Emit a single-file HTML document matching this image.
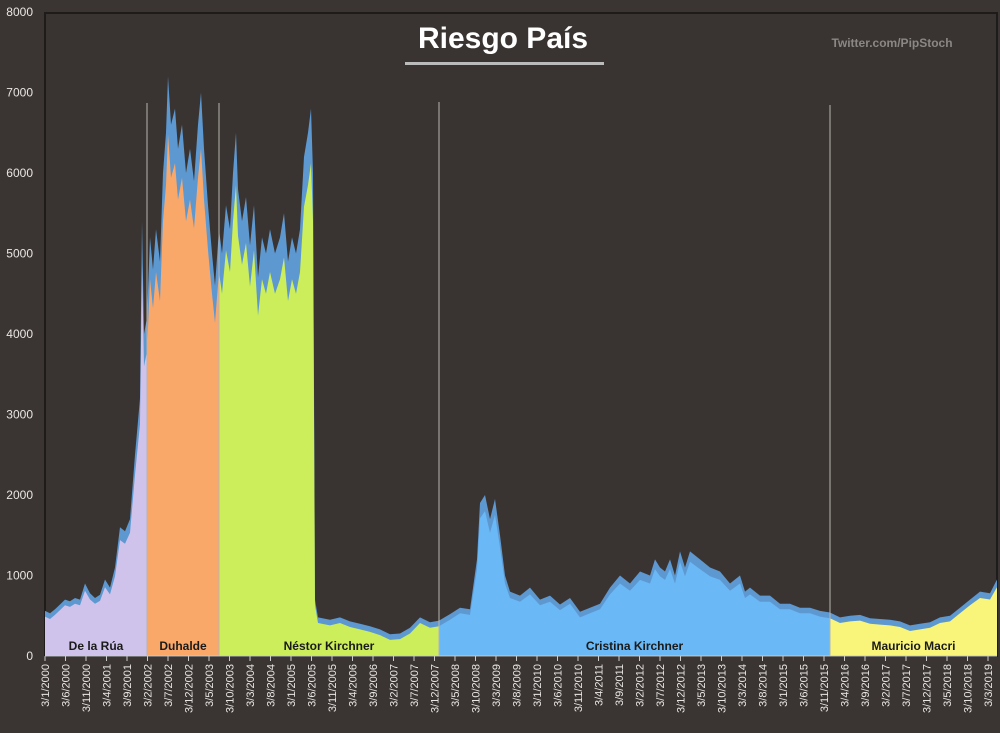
<!DOCTYPE html>
<html><head><meta charset="utf-8"><style>
body{margin:0;background:#3a3532;}
svg{display:block;font-family:"Liberation Sans",sans-serif;}
</style></head><body>
<svg id="s" width="1000" height="733" viewBox="0 0 1000 733" xmlns="http://www.w3.org/2000/svg">
<rect width="1000" height="733" fill="#3a3532"/>
<rect x="45" y="13" width="952" height="643" fill="#393431" stroke="#1e1c1b" stroke-width="2"/>
<g id="g"></g>
<text x="503" y="48" fill="#fff" font-size="30" font-weight="bold" text-anchor="middle">Riesgo País</text>
<rect x="405" y="62" width="199" height="3" fill="#bbb"/>
<text x="892" y="47" fill="#8a8784" font-size="12" font-weight="bold" text-anchor="middle">Twitter.com/PipStoch</text>
</svg>
<script>
const pts=[[45,560],[50,530],[55,580],[60,640],[65,700],[70,680],[75,720],[80,700],[85,900],[90,780],[95,720],[100,760],[105,950],[110,850],[115,1100],[120,1600],[125,1550],[130,1700],[135,2500],[140,3200],[142,5400],[144,4000],[147,4200],[150,5200],[153,4800],[156,5300],[160,4900],[163,6000],[166,6500],[168,7200],[171,6600],[175,6800],[178,6300],[182,6600],[186,6000],[190,6300],[194,5900],[198,6600],[201,7000],[204,6300],[208,5600],[212,5000],[215,4600],[219,5300],[222,5000],[226,5600],[230,5300],[233,6000],[236,6500],[238,5800],[242,5400],[246,5700],[250,5100],[254,5600],[258,4700],[262,5200],[266,5000],[270,5300],[275,5000],[280,5200],[284,5500],[288,4900],[292,5200],[296,5000],[300,5300],[304,6200],[308,6500],[311,6800],[313,6000],[315,700],[318,480],[330,450],[340,480],[350,430],[360,400],[370,370],[380,330],[390,270],[400,280],[410,350],[420,480],[430,420],[439,440],[450,520],[460,600],[470,580],[477,1200],[480,1900],[485,2000],[490,1700],[495,1950],[500,1500],[505,1000],[510,800],[520,750],[530,850],[540,700],[550,750],[560,640],[570,720],[580,550],[590,600],[600,650],[610,850],[620,1000],[630,900],[640,1050],[650,1000],[655,1200],[660,1100],[665,1050],[670,1200],[675,1000],[680,1300],[685,1100],[690,1300],[700,1200],[710,1100],[720,1050],[730,900],[740,1000],[745,800],[750,850],[760,750],[770,750],[780,650],[790,650],[800,600],[810,600],[820,560],[830,540],[840,480],[850,500],[860,510],[870,470],[880,460],[890,450],[900,430],[910,380],[920,400],[930,420],[940,480],[950,500],[960,600],[970,700],[980,800],[990,780],[997,950]];
const Y=v=>656-v*0.0805;
let h='';
const poly=(f,c)=>'<polygon fill="'+c+'" points="45,656 '+pts.map(p=>p[0]+','+Y(f(p[1])).toFixed(1)).join(' ')+' 997,656"/>';
h+=poly(v=>v,'#5e98d0');
const regs=[[45,147,'#cfc3ec','De la Rúa'],[147,219,'#f9a86a','Duhalde'],[219,439,'#cbee5a','Néstor Kirchner'],[439,830,'#6ab8f5','Cristina Kirchner'],[830,997,'#f8f57a','Mauricio Macri']];
regs.forEach((r,i)=>{h+='<clipPath id="c'+i+'"><rect x="'+r[0]+'" y="0" width="'+(r[1]-r[0])+'" height="733"/></clipPath>';
h+='<g clip-path="url(#c'+i+')">'+poly(v=>v-Math.max(70,v*0.1),r[2])+'</g>';
h+='<text x="'+((r[0]+r[1])/2)+'" y="650" font-size="12" font-weight="bold" fill="#1a1a1a" text-anchor="middle">'+r[3]+'</text>';});
[147,219,439,830].forEach((x,i)=>{h+='<line x1="'+x+'" y1="'+(i<2?103:i==2?102:105)+'" x2="'+x+'" y2="656" stroke="#b8b4b0" stroke-width="1"/>';});
for(let v=0;v<=8000;v+=1000)h+='<text x="33" y="'+(Y(v)+4)+'" fill="#e8e6e4" font-size="12" text-anchor="end">'+v+'</text>';
h+='<line x1="45" y1="656" x2="997" y2="656" stroke="#ccc"/>';
let m=0;
for(let i=0;i<47;i++){const x=45+i*20.5;const yr=2000+Math.floor(m/12),mo=m%12+1;
h+='<line x1="'+x+'" y1="656" x2="'+x+'" y2="661" stroke="#ccc"/>';
h+='<text transform="translate('+(x+4)+',664) rotate(-90)" fill="#e8e6e4" font-size="11" text-anchor="end">3/'+mo+'/'+yr+'</text>';m+=5;}
document.getElementById('g').innerHTML=h;
</script>
</body></html>
